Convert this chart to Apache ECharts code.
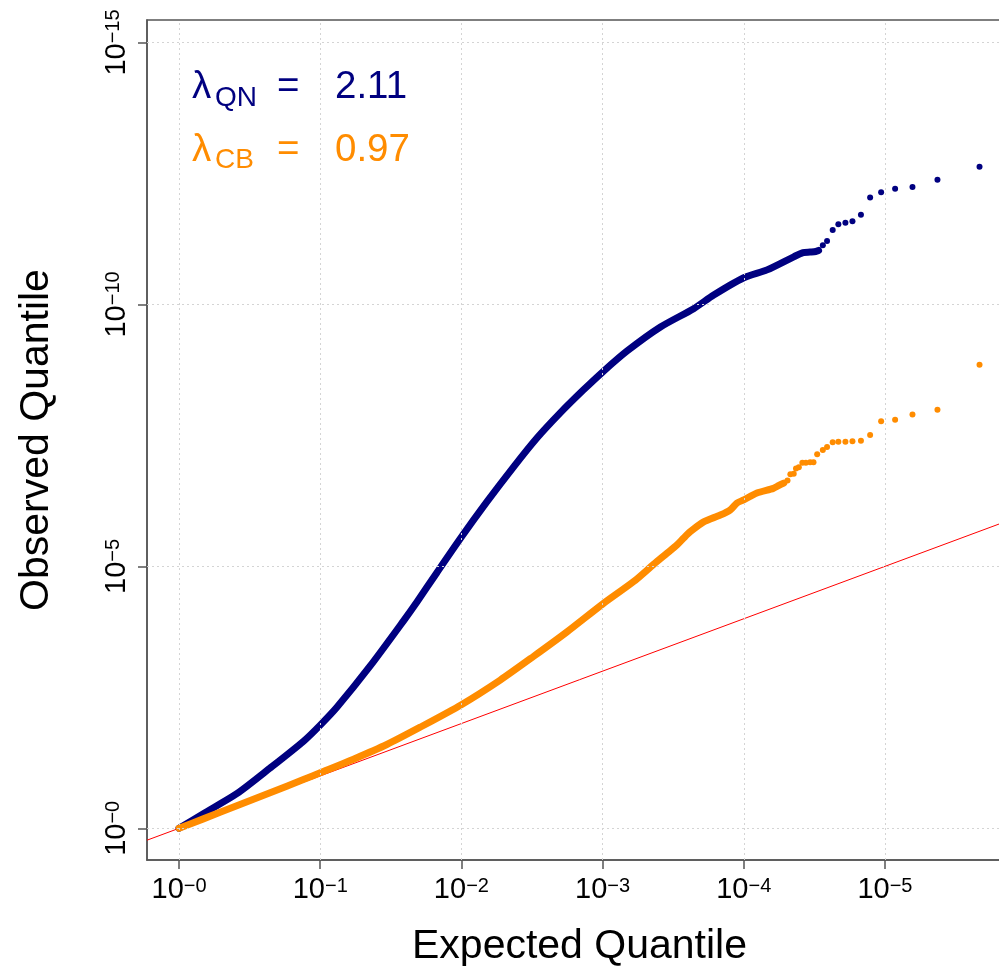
<!DOCTYPE html>
<html>
<head>
<meta charset="utf-8">
<script src="https://cdn.jsdelivr.net/npm/echarts@6/dist/echarts.min.js"></script>
<style>
  html, body { margin: 0; padding: 0; background: #fff; overflow: hidden; }
  body { width: 999px; height: 971px; }
  /* the plot box runs a little past the right edge of the page */
  #chart { width: 1013px; height: 971px; }
</style>
</head>
<body>
<div id="chart"></div>
<script>
// -log10 scale limits (expected on x, observed on y)
const X_MIN = -0.227, X_MAX = 5.9;
const Y_MIN = -0.605, Y_MAX = 15.43;

// tick positions and the exponent shown on each label
const xTicks = [0, 1, 2, 3, 4, 5];
const xTickExp = ['\u22120', '\u22121', '\u22122', '\u22123', '\u22124', '\u22125'];
const yTicks = [0, 5, 10, 15];
const yTickExp = ['\u22120', '\u22125', '\u221210', '\u221215'];

// quantile-normalised test: bulk of the points, then the sparse top hits
const qnCurve = [
  [0, 0], [0.172, 0.28], [0.409, 0.66], [0.645, 1.15], [0.881, 1.66], [1.0, 1.97],
  [1.118, 2.31], [1.354, 3.10], [1.59, 3.96], [1.685, 4.32], [1.826, 4.88],
  [2.0, 5.56], [2.18, 6.23], [2.37, 6.90], [2.535, 7.45], [2.70, 7.93],
  [2.865, 8.37], [3.0, 8.71], [3.173, 9.11], [3.41, 9.57], [3.645, 9.92],
  [3.787, 10.18], [4.0, 10.51], [4.165, 10.66], [4.354, 10.91], [4.42, 10.99],
  [4.47, 11.0], [4.51, 11.01], [4.53, 11.03]
];
const qnTail = [
  [4.56, 11.13], [4.59, 11.21], [4.63, 11.42], [4.67, 11.53], [4.72, 11.56],
  [4.77, 11.59], [4.83, 11.71], [4.895, 12.04], [4.973, 12.14], [5.072, 12.21],
  [5.195, 12.24], [5.372, 12.38], [5.67, 12.63]
];

// count-based test
const cbCurve = [
  [0, 0], [0.172, 0.18], [0.409, 0.43], [0.645, 0.68], [0.881, 0.93], [1.0, 1.06],
  [1.236, 1.32], [1.472, 1.60], [1.708, 1.93], [2.0, 2.36], [2.275, 2.83],
  [2.51, 3.28], [2.748, 3.75], [3.0, 4.28], [3.22, 4.71], [3.362, 5.04],
  [3.456, 5.25], [3.527, 5.41], [3.574, 5.54], [3.62, 5.66], [3.716, 5.85],
  [3.834, 5.98], [3.905, 6.08], [3.952, 6.21], [4.0, 6.27], [4.093, 6.40],
  [4.21, 6.49], [4.246, 6.54], [4.283, 6.59]
];
const cbTail = [
  [4.31, 6.64], [4.33, 6.76], [4.354, 6.77], [4.37, 6.87], [4.39, 6.89],
  [4.415, 6.98], [4.44, 6.98], [4.47, 6.99], [4.494, 6.99], [4.52, 7.14],
  [4.56, 7.22], [4.59, 7.28], [4.63, 7.37], [4.67, 7.38], [4.72, 7.38],
  [4.77, 7.39], [4.83, 7.40], [4.895, 7.51], [4.973, 7.77], [5.072, 7.80],
  [5.195, 7.90], [5.372, 7.99], [5.67, 8.85]
];

// genomic inflation factors
const lambdaQN = '2.11';
const lambdaCB = '0.97';

// y = x reference line across the plotting region
const refLine = [[X_MIN, X_MIN], [X_MAX, X_MAX]];

const NAVY = '#000080';
const ORANGE = '#ff8c00';
const FONT = '"Liberation Sans", Arial, Helvetica, sans-serif';
const AXIS_COLOR = '#555';

function powerLabel(ticks, exps) {
  return function (v) {
    const i = ticks.indexOf(v);
    return '{b|10}{s|' + (i >= 0 ? exps[i] : '') + '}';
  };
}
const labelRich = {
  b: { fontSize: 29, lineHeight: 28, fontFamily: FONT, color: '#000' },
  s: { fontSize: 20, lineHeight: 10, verticalAlign: 'top', fontFamily: FONT, color: '#000' }
};

const chart = echarts.init(document.getElementById('chart'), null, { renderer: 'canvas' });

function txt(x, y, text, size, color) {
  return {
    type: 'text', x: x, y: y, silent: true, z: 10,
    style: {
      text: text, fill: color, font: size + 'px ' + FONT,
      align: 'left', verticalAlign: 'middle',
      textAlign: 'left', textVerticalAlign: 'middle'
    }
  };
}

const option = {
  animation: false,
  backgroundColor: '#fff',
  grid: {
    left: 147, top: 20, right: 1, bottom: 111,
    show: true, borderColor: AXIS_COLOR, borderWidth: 1.5, backgroundColor: 'transparent'
  },
  xAxis: {
    type: 'value', min: X_MIN, max: X_MAX,
    axisLine: { show: true, onZero: false, lineStyle: { color: AXIS_COLOR, width: 1.5 } },
    axisTick: { show: true, customValues: xTicks, length: 9, lineStyle: { color: AXIS_COLOR, width: 1.5 } },
    axisLabel: { customValues: xTicks, margin: 16, formatter: powerLabel(xTicks, xTickExp), rich: labelRich },
    splitLine: { show: false }
  },
  yAxis: {
    type: 'value', min: Y_MIN, max: Y_MAX,
    axisLine: { show: true, onZero: false, lineStyle: { color: AXIS_COLOR, width: 1.5 } },
    axisTick: { show: true, customValues: yTicks, length: 9, lineStyle: { color: AXIS_COLOR, width: 1.5 } },
    axisLabel: { customValues: yTicks, margin: 16, rotate: 90, formatter: powerLabel(yTicks, yTickExp), rich: labelRich },
    splitLine: { show: false }
  },
  series: [
    {
      name: 'reference', type: 'line', data: refLine, showSymbol: false, silent: true, z: 2,
      lineStyle: { color: '#ff0000', width: 1 },
      markLine: {
        silent: true, symbol: ['none', 'none'], label: { show: false },
        lineStyle: { type: [2, 3], color: '#d4d4d4', width: 1 },
        emphasis: { disabled: true },
        data: xTicks.map(v => ({ xAxis: v })).concat(yTicks.map(v => ({ yAxis: v })))
      }
    },
    {
      name: 'QN', type: 'line', data: qnCurve, showSymbol: false, silent: true, z: 3,
      smooth: 0.25,
      lineStyle: { color: NAVY, width: 7, cap: 'round', join: 'round' }
    },
    {
      name: 'QN top', type: 'scatter', data: qnTail, symbolSize: 6, silent: true, z: 3,
      itemStyle: { color: NAVY, opacity: 1 }
    },
    {
      name: 'CB', type: 'line', data: cbCurve, showSymbol: false, silent: true, z: 4,
      smooth: 0.25,
      lineStyle: { color: ORANGE, width: 7, cap: 'round', join: 'round' }
    },
    {
      name: 'CB top', type: 'scatter', data: cbTail, symbolSize: 6, silent: true, z: 4,
      itemStyle: { color: ORANGE, opacity: 1 }
    }
  ],
  graphic: [
    txt(192, 87, '\u03bb', 38.5, NAVY),
    txt(215, 98, 'QN', 28, NAVY),
    txt(277, 87, '=', 38.5, NAVY),
    txt(335, 87, lambdaQN, 38.5, NAVY),
    txt(192, 150, '\u03bb', 38.5, ORANGE),
    txt(215, 160, 'CB', 28, ORANGE),
    txt(277, 150, '=', 38.5, ORANGE),
    txt(335, 150, lambdaCB, 38.5, ORANGE),
    {
      type: 'text', x: 579.5, y: 947, silent: true,
      style: { text: 'Expected Quantile', fill: '#000', font: '41px ' + FONT,
        align: 'center', verticalAlign: 'middle', textAlign: 'center', textVerticalAlign: 'middle' }
    },
    {
      type: 'text', x: 37, y: 440, rotation: Math.PI / 2, silent: true,
      style: { text: 'Observed Quantile', fill: '#000', font: '41px ' + FONT,
        align: 'center', verticalAlign: 'middle', textAlign: 'center', textVerticalAlign: 'middle' }
    }
  ]
};

chart.setOption(option);
</script>
</body>
</html>
